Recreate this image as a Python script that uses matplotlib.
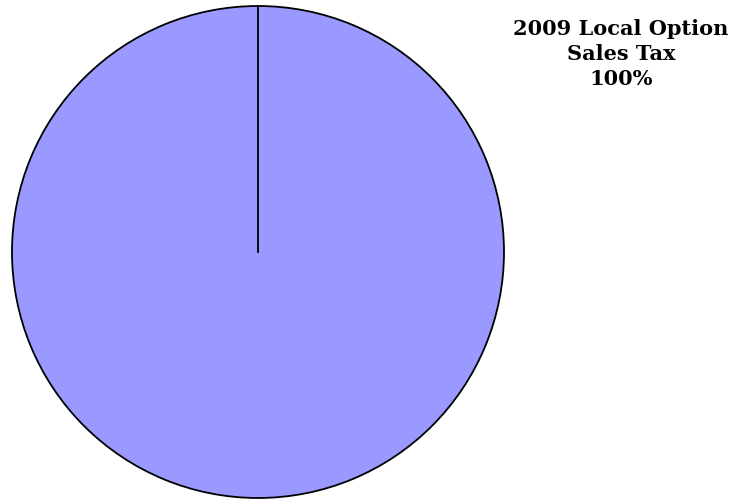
import matplotlib
matplotlib.use('Agg')
import matplotlib.pyplot as plt

labels = ['2009 Local Option\nSales Tax']
values = [100]
colors = ['#9999FF']

fig = plt.figure(figsize=(7.34, 4.99), dpi=100)
ax = fig.add_axes([0, 0, 1, 1])
ax.set_xlim(0, 734)
ax.set_ylim(0, 499)
ax.set_aspect('equal')
ax.axis('off')

cx, cy, r = 258, 499 - 252, 246
wedges, _ = ax.pie(values, colors=colors, startangle=90, counterclock=False,
                   center=(cx, cy), radius=r, frame=True,
                   wedgeprops=dict(edgecolor='black', linewidth=1.3))
ax.set_xlim(0, 734)
ax.set_ylim(0, 499)
ax.axis('off')
# slice border from centre to start angle
ax.plot([cx, cx], [cy, cy + r], color='black', linewidth=1.3)

total = sum(values)
for lab, v in zip(labels, values):
    ax.text(621, 499 - 54, f'{lab}\n{v / total * 100:.0f}%', ha='center', va='center',
            fontsize=15, fontweight='bold', family='DejaVu Serif', linespacing=1.3)

plt.savefig('out.png', dpi=100)
